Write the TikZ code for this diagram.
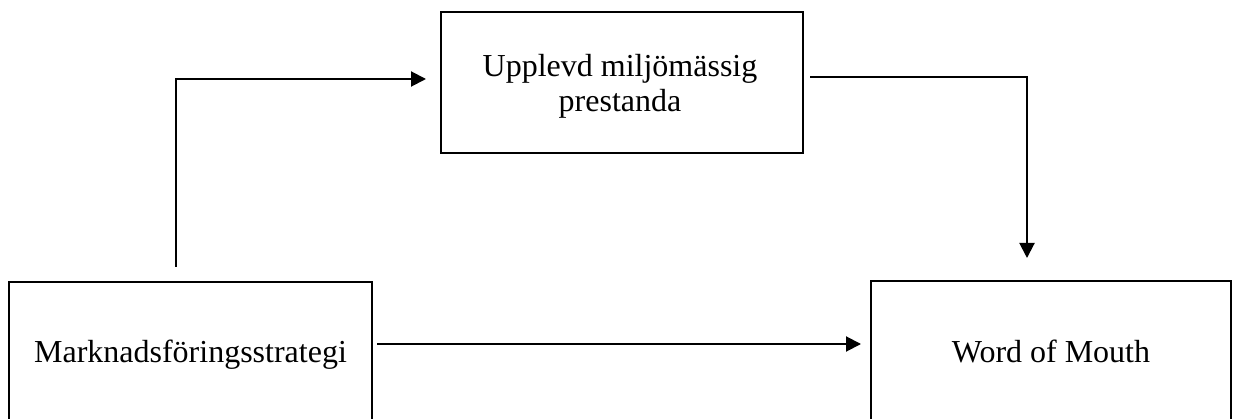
\documentclass[tikz,border=0pt]{standalone}
\usepackage{fontspec}
\setmainfont{Liberation Serif}
\usetikzlibrary{arrows.meta,calc}
\begin{document}
\begin{tikzpicture}[x=1pt,y=-1pt,
  box/.style={draw=black,line width=2pt,inner sep=0pt,
    font=\fontsize{32}{35}\selectfont,text height=22pt,text depth=7pt},
  lbl/.style={font=\fontsize{32}{35}\selectfont,anchor=base,inner sep=0pt},
  arr/.style={line width=2pt,-{Triangle[length=15pt,width=15pt]}}]
\clip (0,0) rectangle (1233,419);
\node[box,minimum width=363pt,minimum height=146pt] (ms) at (190.5,355) {Marknadsföringsstrategi};
\node[box,minimum width=360pt,minimum height=148pt] (wom) at (1051,355) {Word of Mouth};
\node[box,minimum width=362pt,minimum height=141pt] (perf) at (622,82.5) {};
\node[lbl] (t1) at (620,77) {Upplevd miljömässig};
\node[lbl] (t2) at (620,112) {prestanda};
\draw[arr] ($(ms.north)+(-14.5,-14)$) |- ($(perf.west)+(-14,-3.5)$);
\draw[arr] ($(perf.east)+(6,-5.5)$) -| ($(wom.north)+(-24,-22)$);
\draw[arr] ($(ms.east)+(4,-11)$) -- ($(wom.west)+(-9,-11)$);
\end{tikzpicture}
\end{document}
